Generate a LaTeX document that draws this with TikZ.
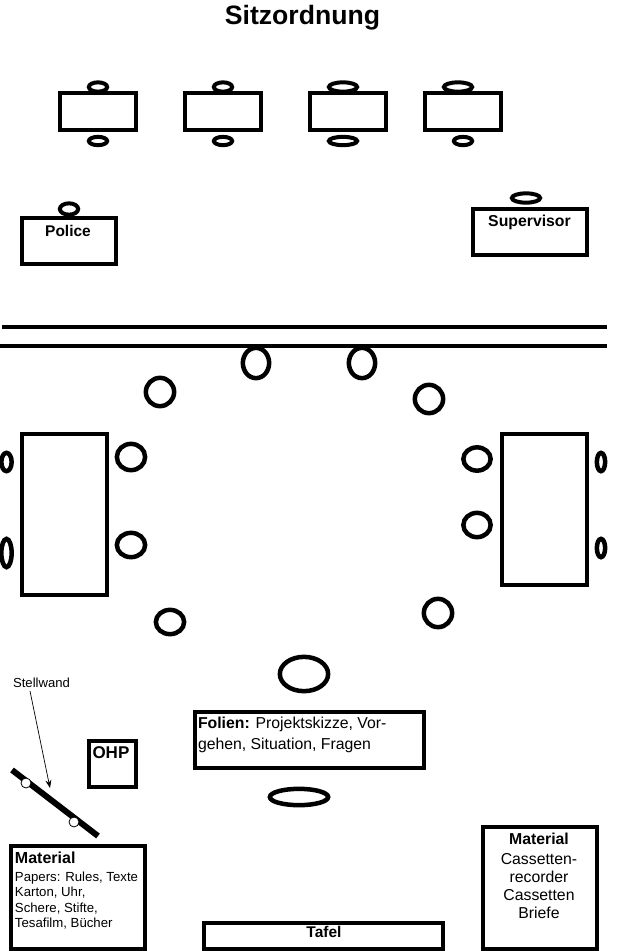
\documentclass[tikz,border=0pt]{standalone}
\usepackage{fontspec}
\setmainfont{Liberation Sans}
\newcommand{\fsz}[2]{\fontsize{#1}{#2}\selectfont}
\tikzset{
  bx/.style={draw=black,line width=4.6pt,fill=white,inner sep=0pt,rectangle},
  seat/.style={draw=black,line width=4pt,fill=white,inner sep=0pt,ellipse},
  seatb/.style={draw=black,line width=4.5pt,fill=white,inner sep=0pt,ellipse},
  txt/.style={inner sep=0pt,outer sep=0pt,text=black},
  peg/.style={draw=black,line width=0.8pt,fill=white,circle,inner sep=0pt,minimum size=10pt},
}
\usetikzlibrary{shapes.geometric,arrows.meta}
% #1 name, #2 style, #3 cx, #4 cy, #5 rx, #6 ry (outer size in px)
\newcommand{\el}[6]{\node[#2,minimum width=#5*2pt-3.7pt,minimum height=#6*2pt-3.7pt] (#1) at (#3,#4) {};}
% #1 name, #2 x0, #3 y0, #4 x1, #5 y1 outer edges
\newcommand{\bxn}[5]{\node[bx,minimum width=#4pt-#2pt-4pt,minimum height=#5pt-#3pt-4pt] (#1) at ({(#2+#4)/2},{(#3+#5)/2}) {};}
\begin{document}
\begin{tikzpicture}[x=1pt,y=-1pt]
\useasboundingbox (0,0) rectangle (640,951);
\node[txt] (title) at (302.5,18) {\fsz{26.6}{30}\bfseries Sitzordnung};
% seats behind tables
\el{s1}{seat}{98}{87}{11}{6.5}
\el{s2}{seat}{223}{87}{11}{6.5}
\el{s3}{seat}{343}{87}{16}{6.5}
\el{s4}{seat}{458}{87}{16}{6.5}
\el{s5}{seat}{98}{141}{11}{6}
\el{s6}{seat}{223}{141}{11}{6}
\el{s7}{seat}{343}{141}{16}{6}
\el{s8}{seat}{463}{141}{11}{6}
\el{s9}{seat}{69}{209}{11}{7.5}
\el{s10}{seat}{526}{198}{16}{6.5}
% tables
\bxn{t1}{58}{91}{138}{132}
\bxn{t2}{183}{91}{263}{132}
\bxn{t3}{308}{91}{388}{132}
\bxn{t4}{423}{91}{503}{132}
\bxn{police}{20}{216}{118}{266}
\node[txt] (policet) at (68,231) {\fsz{15.5}{17}\bfseries Police};
\bxn{sup}{471}{207}{589}{257}
\node[txt] (supt) at (529.5,222) {\fsz{15.8}{17}\bfseries Supervisor};
% partition
\coordinate (la) at (2,327);
\coordinate (lb) at (607,327);
\coordinate (lc) at (0,346);
\coordinate (ld) at (607,346);
\draw[line width=4.5pt] (la) -- (lb);
\draw[line width=4.5pt] (lc) -- (ld);
% circle of chairs
\el{c1}{seatb}{256}{363}{15}{17}
\el{c2}{seatb}{362}{363}{15}{17}
\el{c3}{seatb}{160}{392}{16}{16}
\el{c4}{seatb}{429}{399}{16}{16}
\el{c5}{seatb}{131}{457}{16}{15}
\el{c6}{seatb}{477}{459}{15.5}{13.5}
\el{c7}{seatb}{131}{545}{16}{14}
\el{c8}{seatb}{477}{525}{15.5}{14}
\el{c9}{seatb}{170}{622}{16}{14}
\el{c10}{seatb}{438}{613}{16}{16}
\el{c11}{seatb}{304}{674}{26}{19}
\el{c12}{seatb}{299}{797}{31}{10}
\el{c13}{seatb}{6.5}{462}{7}{11}
\el{c14}{seatb}{6.5}{553}{7}{16}
\el{c15}{seatb}{601}{462}{6}{11}
\el{c16}{seatb}{601}{548}{6}{11}
% long tables
\bxn{lt1}{20}{432}{109}{597}
\bxn{lt2}{500}{432}{589}{587}
% Folien
\bxn{fol}{193}{710}{426}{770}
\node[txt,anchor=base west] (folt1) at (198,728) {\fsz{15.8}{18}\textbf{Folien:} Projektskizze, Vor-};
\node[txt,anchor=base west] (folt2) at (198,749) {\fsz{15.8}{18}gehen, Situation, Fragen};
% OHP
\bxn{ohp}{87}{739}{138}{789}
\node[txt,anchor=base west] (ohpt) at (92.5,758) {\fsz{17}{18}\bfseries OHP};
% Stellwand
\coordinate (wa) at (12,770);
\coordinate (wb) at (98,836);
\draw[line width=6pt] (wa) -- (wb);
\node[peg] (p1) at (26,783) {};
\node[peg] (p2) at (74,822) {};
\node[txt] (stw) at (41.5,683) {\fsz{13.1}{14}Stellwand};
\coordinate (arrstart) at (30,691);
\coordinate (arrend) at (50,788);
\draw[line width=0.7pt,-{Stealth[length=8pt,width=6pt]}] (arrstart) -- (arrend);
% Material left
\bxn{mat1}{9}{844}{147}{951}
\node[txt,anchor=base west] (m1a) at (15,863) {\fsz{16}{18}\bfseries Material};
\node[txt,anchor=base west] (m1b) at (15,881) {\fsz{13.2}{15}Papers: Rules, Texte};
\node[txt,anchor=base west] (m1c) at (15,896) {\fsz{13.2}{15}Karton, Uhr,};
\node[txt,anchor=base west] (m1d) at (15,912) {\fsz{13.2}{15}Schere, Stifte,};
\node[txt,anchor=base west] (m1e) at (15,927) {\fsz{13.2}{15}Tesafilm, Bücher};
% Tafel
\bxn{taf}{202}{921}{445}{951}
\node[txt] (taft) at (324,932) {\fsz{15.5}{17}\bfseries Tafel};
% Material right
\bxn{mat2}{481}{825}{599}{951}
\node[txt,anchor=base] (m2a) at (539,844) {\fsz{15.8}{18}\bfseries Material};
\node[txt,anchor=base] (m2b) at (539,864) {\fsz{15.8}{18}Cassetten-};
\node[txt,anchor=base] (m2c) at (539,882) {\fsz{15.8}{18}recorder};
\node[txt,anchor=base] (m2d) at (539,900) {\fsz{15.8}{18}Cassetten};
\node[txt,anchor=base] (m2e) at (539,918) {\fsz{15.8}{18}Briefe};
\end{tikzpicture}
\end{document}
